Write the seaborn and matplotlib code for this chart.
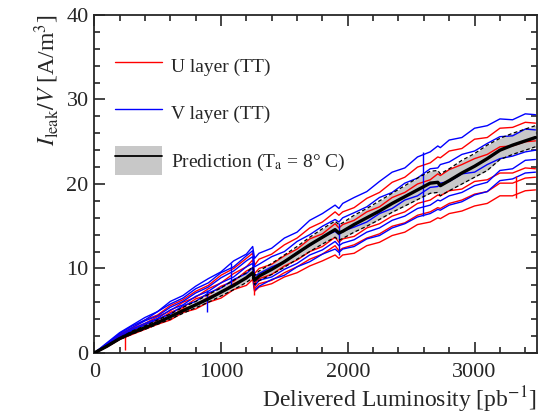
"""
Leakage current per volume vs delivered luminosity,
U and V layers of the TT compared with the prediction.
"""

import matplotlib.pyplot as plt
import pandas as pd
import seaborn as sns
from matplotlib.legend_handler import HandlerTuple
from matplotlib.lines import Line2D
from matplotlib.patches import Patch
from matplotlib.ticker import MultipleLocator

sns.set_style("ticks")
plt.rcParams["font.family"] = ["Liberation Serif", "DejaVu Serif"]
plt.rcParams["mathtext.fontset"] = "stix"

# delivered luminosity [pb^-1]
lumi = [0, 100, 200, 300, 400, 500, 600, 700, 800, 900, 1000, 1100, 1200, 1250,
        1265, 1300, 1400, 1500, 1600, 1700, 1800, 1900, 1930, 1960, 2050, 2150,
        2250, 2350, 2450, 2550, 2650, 2710, 2730, 2800, 2900, 3000, 3100, 3200,
        3300, 3400, 3480]

# U layer (TT) sensors, I_leak/V [A/m^3]
u_1 = [0, 1.0, 2.2, 3.0, 3.9, 4.5, 5.6, 6.3, 7.3, 8.0, 9.2, 10.0, 11.2, 11.8,
       10.4, 11.1, 11.7, 12.8, 13.6, 14.8, 15.5, 16.7, 16.3, 16.7, 17.2, 18.3,
       19.0, 20.2, 20.8, 22.0, 22.5, 23.2, 23.1, 23.9, 24.2, 25.3, 25.5, 26.6,
       26.7, 27.3, 27.2]
u_2 = [0, 0.9, 2.0, 2.9, 3.5, 4.3, 5.0, 6.0, 6.6, 7.6, 8.3, 9.4, 10.2, 11.0,
       9.4, 10.0, 10.5, 11.5, 12.3, 13.5, 14.1, 15.3, 14.8, 15.2, 15.7, 16.7,
       17.3, 18.4, 19.0, 20.0, 20.5, 21.2, 21.0, 21.7, 22.3, 23.0, 23.5, 24.4,
       24.5, 25.0, 25.1]
u_3 = [0, 0.8, 1.8, 2.6, 3.4, 3.9, 4.8, 5.4, 6.4, 6.9, 7.9, 8.5, 9.7, 10.1,
       8.2, 8.8, 9.3, 10.3, 11.0, 12.0, 12.6, 13.7, 13.1, 13.5, 13.8, 14.8,
       15.3, 16.2, 16.7, 17.7, 18.1, 18.7, 18.6, 19.2, 19.4, 20.3, 20.5, 21.3,
       21.3, 21.9, 21.8]
u_4 = [0, 0.8, 1.7, 2.5, 3.0, 3.7, 4.3, 5.2, 5.7, 6.6, 7.2, 8.2, 8.8, 9.4,
       7.6, 8.2, 8.6, 9.5, 10.2, 11.1, 11.7, 12.7, 12.1, 12.4, 12.8, 13.6,
       14.1, 15.0, 15.4, 16.3, 16.7, 17.2, 17.1, 17.7, 18.1, 18.8, 19.1, 20.1,
       20.1, 20.7, 20.8]
u_5 = [0, 0.7, 1.6, 2.2, 2.8, 3.4, 3.9, 4.8, 5.2, 6.0, 6.5, 7.5, 8.0, 8.7,
       7.3, 7.8, 8.2, 9.0, 9.5, 10.3, 10.9, 11.6, 11.2, 11.6, 11.8, 12.7,
       13.1, 13.9, 14.3, 15.2, 15.5, 16.0, 15.9, 16.5, 16.8, 17.4, 17.7, 18.6,
       18.6, 19.2, 19.3]

# V layer (TT) sensors
v_1 = [0, 1.2, 2.4, 3.3, 4.2, 4.9, 6.1, 6.8, 7.9, 8.8, 9.6, 10.9, 11.7, 12.6,
       11.2, 11.8, 12.4, 13.6, 14.3, 15.7, 16.5, 17.5, 17.1, 17.7, 18.4, 19.1,
       20.3, 21.4, 21.9, 23.2, 23.8, 24.5, 24.3, 25.2, 25.5, 26.6, 26.9, 27.7,
       27.6, 28.3, 28.2]
v_2 = [0, 1.1, 2.3, 3.2, 3.9, 4.9, 5.8, 6.5, 7.6, 8.3, 9.5, 10.2, 11.5, 12.1,
       10.2, 10.5, 11.4, 12.0, 13.2, 14.0, 15.0, 15.8, 15.5, 16.0, 16.6, 17.3,
       18.4, 19.0, 20.1, 20.7, 21.8, 21.9, 22.3, 22.6, 23.5, 23.9, 24.8, 25.6,
       25.7, 26.5, 26.4]
v_3 = [0, 0.9, 2.1, 3.0, 3.8, 4.4, 5.4, 6.1, 7.1, 7.8, 8.9, 9.7, 10.9, 11.4,
       9.1, 9.4, 10.2, 10.8, 11.9, 12.7, 13.7, 14.4, 14.0, 14.4, 14.9, 15.5,
       16.5, 17.1, 18.1, 18.6, 19.6, 19.7, 20.1, 20.3, 21.2, 21.4, 22.3, 23.0,
       23.3, 23.8, 24.0]
v_4 = [0, 0.9, 1.9, 2.8, 3.5, 4.1, 5.1, 5.7, 6.7, 7.3, 8.3, 9.0, 10.2, 10.6,
       7.9, 8.6, 9.0, 9.9, 10.6, 11.6, 12.2, 13.2, 12.7, 13.0, 13.4, 14.3,
       14.8, 15.7, 16.2, 17.1, 17.5, 18.1, 18.0, 18.6, 19.0, 19.8, 20.2, 21.6,
       21.8, 22.8, 22.9]
v_5 = [0, 0.9, 1.8, 2.7, 3.3, 4.0, 4.6, 5.6, 6.1, 7.1, 7.7, 8.7, 9.4, 10.1,
       7.4, 7.9, 8.7, 9.2, 10.2, 10.8, 11.7, 12.3, 11.9, 12.3, 12.6, 13.5,
       13.9, 14.8, 15.3, 16.1, 16.5, 17.0, 16.9, 17.5, 17.9, 18.7, 19.1, 20.4,
       20.6, 21.3, 21.4]

# short glitches in single sensors: luminosity, low and high value
glitch_layer = ["U layer (TT)", "V layer (TT)", "V layer (TT)", "U layer (TT)",
                "V layer (TT)", "V layer (TT)", "U layer (TT)"]
glitch_lumi = [240, 890, 1080, 1262, 1930, 2590, 3330]
glitch_lo = [0.3, 4.9, 8.0, 6.9, 11.6, 16.2, 18.4]
glitch_hi = [2.0, 7.4, 10.6, 9.2, 15.4, 23.8, 21.0]

# prediction (T_a = 8 C) and its uncertainty band
pred = [0, 0.8, 1.7, 2.4, 3.0, 3.6, 4.3, 5.0, 5.7, 6.4, 7.2, 8.0, 8.9, 9.5,
        8.6, 9.1, 9.9, 10.8, 11.8, 12.8, 13.7, 14.6, 14.2, 14.4, 15.2, 16.0,
        16.8, 17.7, 18.5, 19.3, 20.1, 20.2, 19.8, 20.4, 21.3, 22.1, 23.0, 24.0,
        24.6, 25.1, 25.5]
pred_hi = [0, 0.9, 1.8, 2.6, 3.2, 3.9, 4.6, 5.4, 6.1, 6.9, 7.7, 8.6, 9.5, 10.2,
           9.2, 9.7, 10.6, 11.6, 12.6, 13.7, 14.7, 15.6, 15.2, 15.4, 16.3, 17.1,
           18.0, 18.9, 19.8, 20.7, 21.5, 21.6, 21.2, 21.8, 22.8, 23.6, 24.6,
           25.4, 26.0, 26.5, 26.9]
pred_lo = [0, 0.75, 1.6, 2.25, 2.8, 3.4, 4.0, 4.7, 5.35, 6.0, 6.75, 7.5, 8.35,
           8.9, 8.1, 8.55, 9.3, 10.15, 11.1, 12.0, 12.9, 13.7, 13.35, 13.55,
           14.3, 15.0, 15.8, 16.65, 17.4, 18.15, 18.9, 19.0, 18.6, 19.2, 20.0,
           20.8, 21.6, 22.9, 23.5, 24.0, 24.4]

layer_colors = {"U layer (TT)": "#ff0000", "V layer (TT)": "#0000ff"}
sensors = {
    "U1": ("U layer (TT)", u_1), "U2": ("U layer (TT)", u_2),
    "U3": ("U layer (TT)", u_3), "U4": ("U layer (TT)", u_4),
    "U5": ("U layer (TT)", u_5),
    "V1": ("V layer (TT)", v_1), "V2": ("V layer (TT)", v_2),
    "V3": ("V layer (TT)", v_3), "V4": ("V layer (TT)", v_4),
    "V5": ("V layer (TT)", v_5),
}
df = pd.concat(
    [pd.DataFrame({"lumi": lumi, "ileak": vals, "layer": layer, "sensor": name})
     for name, (layer, vals) in sensors.items()],
    ignore_index=True,
)
pred_df = pd.DataFrame({"lumi": lumi, "pred": pred, "lo": pred_lo, "hi": pred_hi})

fig = plt.figure(figsize=(5.42, 4.15), dpi=100)
ax = fig.add_axes([0.1738, 0.1494, 0.8164, 0.8145])

ax.fill_between(pred_df["lumi"], pred_df["lo"], pred_df["hi"], color="#c8c8c8", lw=0, zorder=1)
sns.lineplot(
    data=df, x="lumi", y="ileak", hue="layer", units="sensor", estimator=None,
    palette=layer_colors, lw=1.0, legend=False, sort=False, ax=ax, zorder=2,
)
ax.vlines(glitch_lumi, glitch_lo, glitch_hi,
          colors=[layer_colors[g] for g in glitch_layer], lw=1.0, zorder=2)
sns.lineplot(data=pred_df, x="lumi", y="lo", color="black", lw=0.9, ls=(0, (3, 2)), ax=ax, zorder=3)
sns.lineplot(data=pred_df, x="lumi", y="hi", color="black", lw=0.9, ls=(0, (3, 2)), ax=ax, zorder=3)
sns.lineplot(data=pred_df, x="lumi", y="pred", color="black", lw=2.4, ax=ax, zorder=4)

ax.set_xlim(0, 3490)
ax.set_ylim(0, 40)
ax.xaxis.set_major_locator(MultipleLocator(1000))
ax.xaxis.set_minor_locator(MultipleLocator(200))
ax.yaxis.set_major_locator(MultipleLocator(10))
ax.yaxis.set_minor_locator(MultipleLocator(2))
ax.tick_params(which="both", direction="in", top=True, right=True, width=1.2, labelsize=16)
ax.tick_params(which="major", length=8)
ax.tick_params(which="minor", length=4.5)
ax.tick_params(axis="x", pad=7)
ax.tick_params(axis="y", pad=4)
for s in ax.spines.values():
    s.set_linewidth(1.3)

ax.set_xlabel(r"Delivered Luminosity [pb$^{\mathrm{-1}}$]", fontsize=17, loc="right", labelpad=2)
ax.set_ylabel(r"$I_{\mathrm{leak}}/V$ [A/m$^3$]", fontsize=17, loc="top", labelpad=4)

handles = [
    Line2D([], [], color="#ff0000", lw=1.0),
    Line2D([], [], color="#0000ff", lw=1.0),
    (Patch(facecolor="#c8c8c8", edgecolor="none"), Line2D([], [], color="black", lw=1.3)),
]
labels = ["U layer (TT)", "V layer (TT)", r"Prediction (T$_{\mathrm{a}}$ = 8° C)"]
ax.legend(
    handles, labels, loc="upper left", bbox_to_anchor=(0.047, 0.892), frameon=False,
    fontsize=14, handlelength=2.4, handleheight=1.9, labelspacing=0.95,
    handletextpad=0.5, borderpad=0, borderaxespad=0,
    handler_map={tuple: HandlerTuple(ndivide=1, pad=0)},
)

fig.savefig("out.png", dpi=100)
